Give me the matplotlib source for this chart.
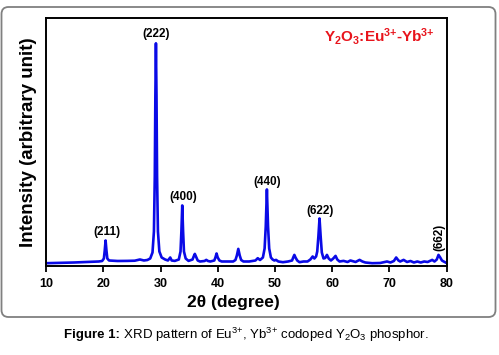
import matplotlib
matplotlib.use("Agg")
import matplotlib.pyplot as plt
from matplotlib.patches import FancyBboxPatch
from matplotlib.transforms import IdentityTransform

plt.rcParams['font.family'] = ['Liberation Sans', 'DejaVu Sans']
plt.rcParams['mathtext.fontset'] = 'custom'
plt.rcParams['mathtext.rm'] = 'Liberation Sans'
plt.rcParams['mathtext.bf'] = 'Liberation Sans:bold'
plt.rcParams['mathtext.it'] = 'Liberation Sans:italic'

# trace (2theta in degree, intensity in arbitrary unit)
two_theta = [10.0, 12.0, 14.9, 17.0, 19.2, 19.8, 20.1, 20.25, 20.4, 20.55, 20.7, 21.0,
             22.5, 24.2, 25.5, 26.4, 27.1, 27.7, 28.2, 28.6, 28.85, 29.0, 29.1, 29.2,
             29.3, 29.4, 29.55, 29.8, 30.2, 30.8, 31.3, 31.7, 31.95, 32.5, 33.2, 33.5,
             33.65, 33.8, 33.95, 34.1, 34.4, 34.9, 35.6, 35.8, 36.0, 36.2, 36.5, 36.9,
             37.7, 38.0, 38.3, 38.7, 39.4, 39.6, 39.8, 40.0, 40.3, 40.7, 42.7, 43.1,
             43.35, 43.6, 43.85, 44.1, 44.5, 45.5, 46.6, 47.0, 47.4, 47.9, 48.2, 48.4,
             48.6, 48.8, 49.0, 49.3, 49.6, 49.9, 50.2, 50.6, 51.4, 52.3, 53.0, 53.2,
             53.4, 53.6, 53.9, 54.3, 55.0, 55.7, 56.2, 56.6, 56.9, 57.2, 57.4, 57.6,
             57.8, 58.0, 58.2, 58.5, 58.8, 59.1, 59.4, 59.8, 60.2, 60.6, 60.9, 61.3,
             62.0, 62.7, 63.2, 64.1, 64.8, 65.3, 65.8, 67.0, 68.4, 69.6, 70.2, 70.8,
             71.2, 71.6, 71.9, 72.5, 73.1, 73.7, 74.3, 74.9, 75.5, 76.1, 76.7, 77.5,
             77.9, 78.3, 78.6, 78.9, 79.2, 79.5, 80.0]
intensity = [3.3, 3.6, 4.0, 4.5, 5.0, 5.5, 8.0, 16.0, 26.0, 16.0, 8.0, 6.0,
             5.5, 5.6, 5.8, 7.0, 6.0, 6.5, 8.0, 14.0, 35.0, 90.0, 170.0, 223.0,
             170.0, 90.0, 35.0, 15.0, 9.0, 7.0, 6.0, 9.0, 6.0, 5.6, 7.0, 15.0,
             35.0, 61.0, 35.0, 15.0, 8.0, 5.6, 7.0, 10.0, 12.6, 10.0, 6.0, 5.0,
             5.5, 6.6, 5.5, 5.0, 6.0, 9.0, 13.0, 9.0, 6.0, 5.0, 5.0, 6.5,
             11.0, 17.6, 11.0, 6.5, 5.0, 5.0, 6.0, 8.3, 6.5, 9.0, 18.0, 40.0,
             77.0, 40.0, 18.0, 9.0, 7.0, 6.0, 6.6, 5.0, 4.3, 5.0, 6.0, 9.0,
             11.6, 9.0, 6.0, 4.3, 5.0, 5.0, 7.0, 10.0, 8.0, 10.0, 15.0, 30.0,
             48.0, 30.0, 14.0, 8.0, 8.5, 11.6, 8.0, 6.0, 8.0, 10.6, 7.0, 5.0,
             5.6, 4.5, 6.0, 4.5, 6.6, 5.0, 4.0, 3.3, 3.5, 5.0, 4.0, 5.5,
             9.0, 6.0, 5.0, 6.6, 4.5, 5.5, 4.0, 5.0, 4.0, 5.0, 4.5, 6.6,
             5.0, 7.0, 11.6, 9.0, 6.0, 5.0, 3.5]

# peak labels
hkl = ['(211)', '(222)', '(400)', '(440)', '(622)']
hkl_x = [20.6, 29.2, 34.0, 48.7, 57.9]
hkl_y = [28.0, 226.0, 63.0, 78.0, 49.0]

fig = plt.figure(figsize=(4.99, 3.55), dpi=100)
fig.patch.set_facecolor('white')

# rounded frame around the figure
frame = FancyBboxPatch((1.5, 38), 494, 310, boxstyle='round,pad=0,rounding_size=7',
                       transform=IdentityTransform(), facecolor='none',
                       edgecolor='#808080', lw=1.3)
fig.add_artist(frame)

ax = fig.add_axes([0.0924, 0.2493, 0.8024, 0.6992])
ax.plot(two_theta, intensity, color='#0a0ae6', lw=1.9)

ax.set_xlim(10, 80)
ax.set_ylim(0, 248)
ax.set_xticks([10, 20, 30, 40, 50, 60, 70, 80])
ax.set_yticks([])
ax.tick_params(axis='x', direction='out', length=4, width=1.3, pad=4, labelsize=9)
for lbl in ax.get_xticklabels():
    lbl.set_fontweight('bold')
for s in ax.spines.values():
    s.set_linewidth(1.4)

ax.set_xlabel('2θ (degree)', fontsize=12.5, fontweight='bold')
ax.xaxis.set_label_coords(0.467, -0.146)
ax.xaxis.label.set_va('center')
ax.set_ylabel('Intensity (arbitrary unit)', fontsize=13.5, fontweight='bold')
ax.yaxis.set_label_coords(-0.045, 0.5)
ax.yaxis.label.set_va('center')

for t, x, y in zip(hkl, hkl_x, hkl_y):
    ax.text(x, y, t, ha='center', va='bottom', fontsize=8.5, fontweight='bold')
ax.text(78.7, 15, '(662)', ha='center', va='bottom', rotation=90, fontsize=8.5, fontweight='bold')

ax.text(0.97, 0.925, r'Y$_{\mathbf{2}}$O$_{\mathbf{3}}$:Eu$^{\mathbf{3{+}}}$-Yb$^{\mathbf{3{+}}}$',
        transform=ax.transAxes, ha='right', va='center', color='#e8141c',
        fontsize=11, fontweight='bold')

# caption: bold lead-in followed by regular text
cap_y = 1 - 335 / 355
renderer = fig.canvas.get_renderer()
t1 = fig.text(0, cap_y, 'Figure 1:', ha='left', va='center', fontsize=9.5, fontweight='bold')
t2 = fig.text(0, cap_y, r' XRD pattern of Eu$^{3{+}}$, Yb$^{3{+}}$ codoped Y$_2$O$_3$ phosphor.',
              ha='left', va='center', fontsize=9.5)
w1 = t1.get_window_extent(renderer).width
w2 = t2.get_window_extent(renderer).width
x0 = 246.7 - (w1 + w2) / 2
t1.set_x(x0 / 499)
t2.set_x((x0 + w1) / 499)

fig.savefig('out.png', dpi=100)
